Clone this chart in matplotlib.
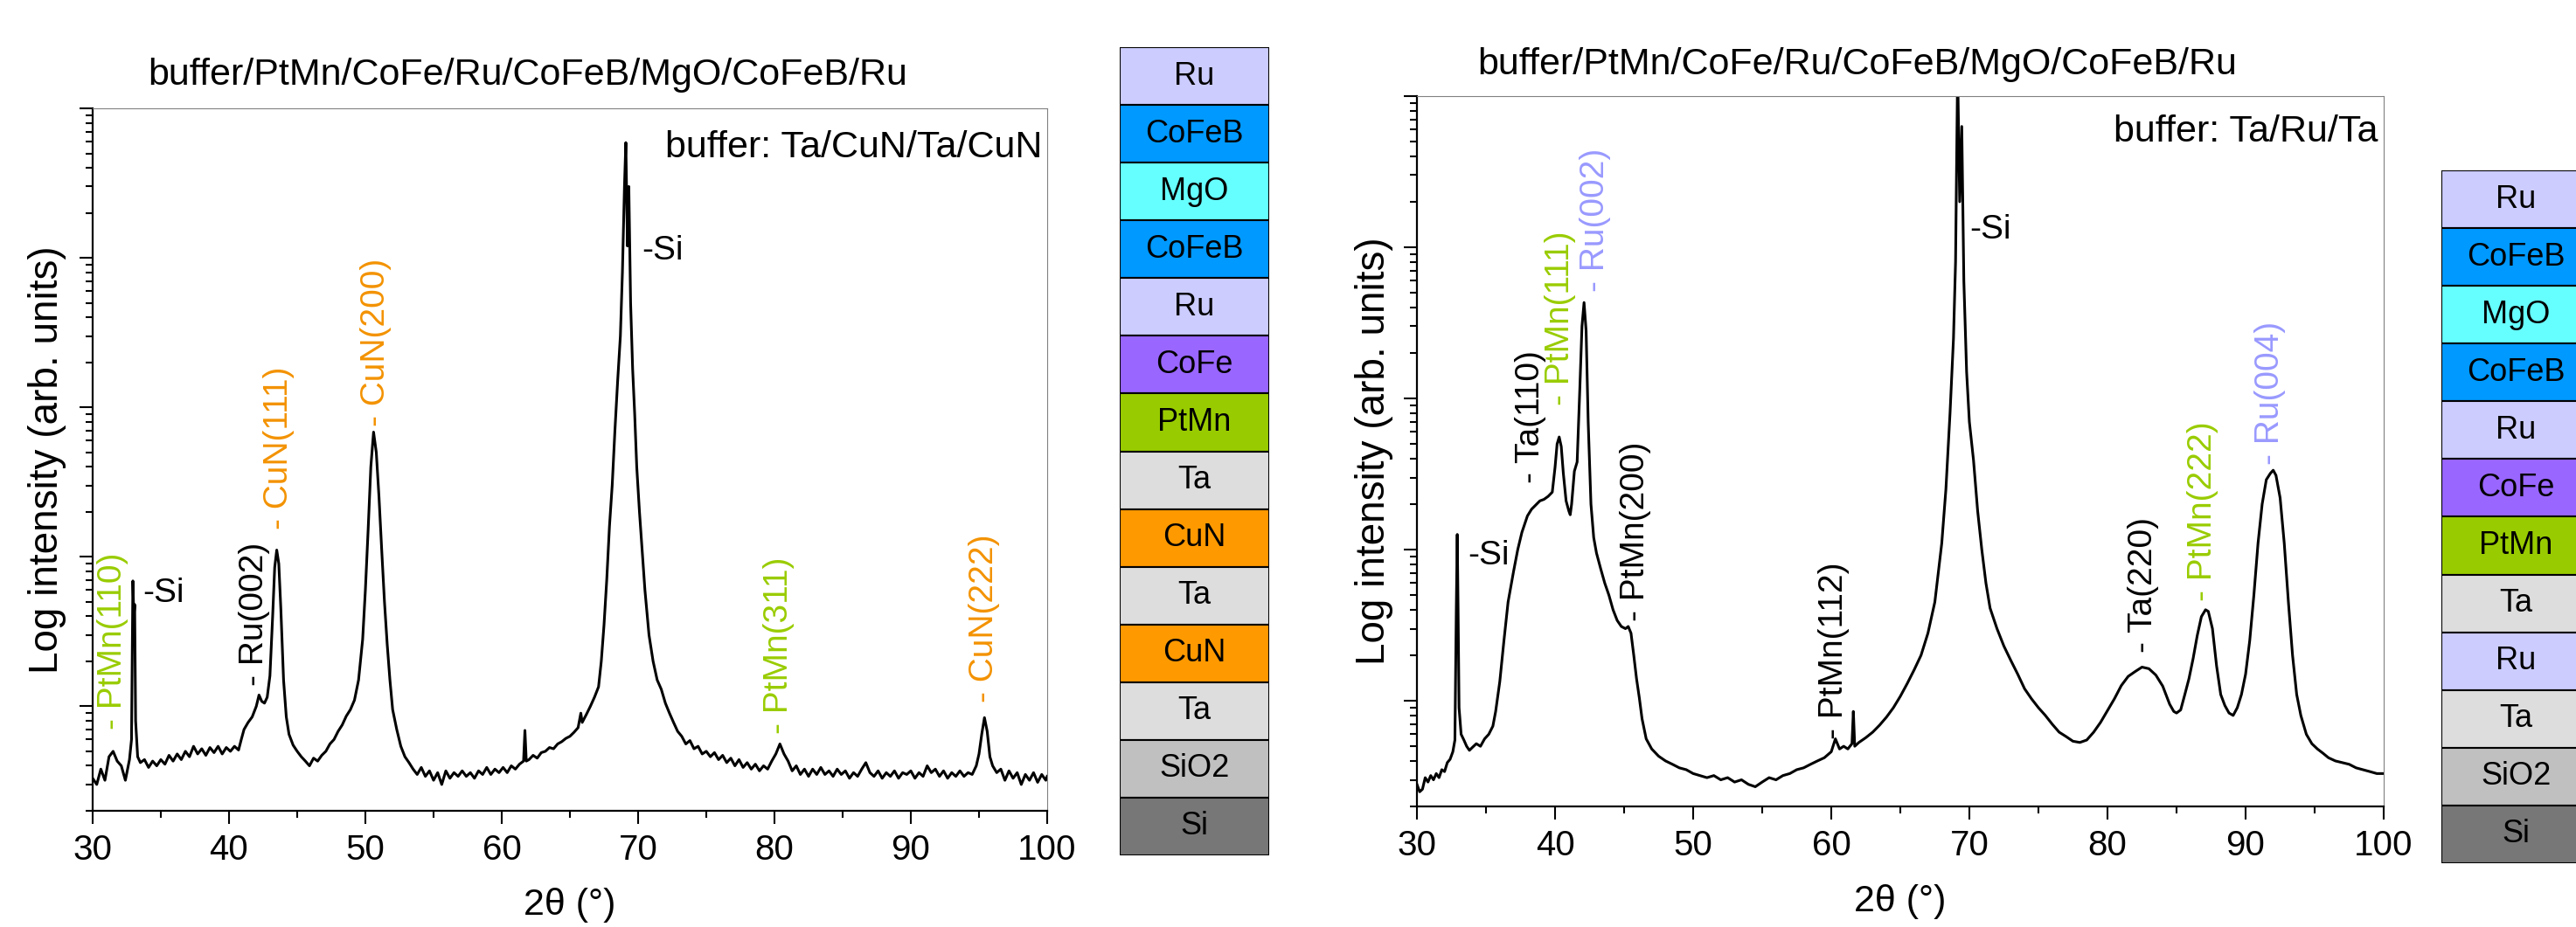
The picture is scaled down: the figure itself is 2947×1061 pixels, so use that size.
import numpy as np
import matplotlib
matplotlib.use("Agg")
import matplotlib.pyplot as plt
from matplotlib.ticker import LogLocator, NullFormatter, MultipleLocator

plt.rcParams['font.family'] = ['Liberation Sans', 'DejaVu Sans']

# ---------------- data ----------------
left_x = [30.0, 30.3, 30.6, 30.9, 31.2, 31.5, 31.8, 32.1, 32.4, 32.7, 32.85, 32.95, 33.02, 33.08, 33.15, 33.3,
          33.5, 33.8, 34.1, 34.4, 34.7, 35.0, 35.3, 35.6, 35.9, 36.2, 36.5, 36.8, 37.1, 37.4, 37.7, 38.0,
          38.3, 38.6, 38.9, 39.2, 39.5, 39.8, 40.1, 40.4, 40.7, 40.9, 41.1, 41.4, 41.7, 42.0, 42.2, 42.4,
          42.6, 42.8, 43.0, 43.2, 43.35, 43.5, 43.65, 43.8, 44.0, 44.2, 44.4, 44.7, 45.0, 45.3, 45.6, 45.9,
          46.2, 46.5, 46.8, 47.1, 47.4, 47.7, 48.0, 48.3, 48.6, 48.9, 49.2, 49.5, 49.8, 50.0, 50.2, 50.4,
          50.6, 50.8, 51.0, 51.2, 51.4, 51.6, 51.8, 52.0, 52.3, 52.6, 52.9, 53.2, 53.5, 53.8, 54.1, 54.4,
          54.7, 55.0, 55.3, 55.6, 55.9, 56.2, 56.5, 56.8, 57.1, 57.4, 57.7, 58.0, 58.3, 58.6, 58.9, 59.2,
          59.5, 59.8, 60.1, 60.4, 60.7, 61.0, 61.3, 61.6, 61.7, 61.8, 62.0, 62.3, 62.6, 62.9, 63.2, 63.5,
          63.8, 64.1, 64.4, 64.7, 65.0, 65.3, 65.6, 65.8, 65.9, 66.2, 66.5, 66.8, 67.1, 67.3, 67.5, 67.7,
          67.9, 68.1, 68.3, 68.5, 68.7, 68.85, 69.0, 69.1, 69.22, 69.32, 69.45, 69.6, 69.75, 69.9, 70.1,
          70.3, 70.5, 70.8, 71.1, 71.4, 71.7, 72.0, 72.3, 72.6, 72.9, 73.2, 73.5, 73.8, 74.1, 74.4, 74.7,
          75.0, 75.3, 75.6, 75.9, 76.2, 76.5, 76.8, 77.1, 77.4, 77.7, 78.0, 78.3, 78.6, 78.9, 79.2, 79.5,
          79.8, 80.1, 80.4, 80.7, 81.0, 81.3, 81.6, 81.9, 82.2, 82.5, 82.8, 83.1, 83.4, 83.7, 84.0, 84.3,
          84.6, 84.9, 85.2, 85.5, 85.8, 86.1, 86.4, 86.7, 87.0, 87.3, 87.6, 87.9, 88.2, 88.5, 88.8, 89.1,
          89.4, 89.7, 90.0, 90.3, 90.6, 90.9, 91.2, 91.5, 91.8, 92.1, 92.4, 92.7, 93.0, 93.3, 93.6, 93.9,
          94.2, 94.5, 94.8, 95.0, 95.2, 95.4, 95.6, 95.8, 96.0, 96.3, 96.6, 96.9, 97.2, 97.5, 97.8, 98.1,
          98.4, 98.7, 99.0, 99.3, 99.6, 99.9, 100.0]
left_I = [3.3, 3.0, 3.8, 3.2, 4.6, 5.0, 4.3, 4.0, 3.2, 4.4, 6.0, 69, 40, 48, 8, 4.6,
          4.2, 4.4, 3.9, 4.3, 4.0, 4.4, 4.1, 4.7, 4.3, 4.8, 4.4, 5.0, 4.6, 5.4, 4.8, 5.2,
          4.7, 5.3, 4.9, 5.4, 4.8, 5.3, 5.0, 5.4, 5.1, 6.0, 7.0, 7.8, 8.5, 10.0, 11.9, 10.8,
          10.5, 11.5, 16, 40, 85, 111, 90, 45, 15, 8.5, 6.5, 5.5, 5.0, 4.6, 4.3, 4.0,
          4.5, 4.3, 4.7, 5.0, 5.6, 6.0, 6.8, 7.5, 8.6, 9.5, 11, 15, 28, 60, 150, 400,
          683, 500, 250, 110, 50, 26, 15, 9.5, 7.0, 5.4, 4.6, 4.2, 3.8, 3.5, 3.9, 3.4,
          3.7, 3.2, 3.6, 3.0, 3.7, 3.3, 3.6, 3.4, 3.7, 3.4, 3.6, 3.3, 3.7, 3.5, 3.9, 3.5,
          3.8, 3.6, 3.9, 3.6, 4.0, 3.8, 4.1, 4.3, 6.9, 4.3, 4.4, 4.7, 4.5, 4.9, 5.0, 5.3,
          5.2, 5.6, 5.8, 6.1, 6.3, 6.7, 7.2, 9.0, 7.8, 8.8, 10, 11.5, 13.5, 20, 35, 70,
          160, 300, 700, 1500, 3000, 8000, 30000, 59000, 12000, 30000, 5000, 1800, 900, 400, 200,
          110, 60, 30, 20, 15, 13, 10.5, 9.0, 7.8, 6.8, 6.3, 5.6, 5.9, 5.2, 5.4, 4.8,
          5.0, 4.6, 4.9, 4.4, 4.7, 4.2, 4.5, 4.0, 4.4, 3.9, 4.2, 3.8, 4.1, 3.7, 4.0, 3.8,
          4.3, 4.8, 5.6, 4.8, 4.3, 3.7, 4.0, 3.5, 3.8, 3.4, 3.8, 3.5, 3.9, 3.5, 3.7, 3.4,
          3.8, 3.5, 3.7, 3.3, 3.6, 3.4, 3.8, 4.2, 3.6, 3.4, 3.7, 3.3, 3.6, 3.4, 3.7, 3.3,
          3.6, 3.5, 3.7, 3.3, 3.6, 3.4, 4.0, 3.6, 3.8, 3.4, 3.7, 3.3, 3.6, 3.4, 3.7, 3.4,
          3.6, 3.5, 4.0, 4.8, 6.5, 8.4, 6.8, 4.6, 4.0, 3.6, 3.8, 3.2, 3.7, 3.3, 3.6, 3.0,
          3.5, 3.2, 3.6, 3.1, 3.5, 3.2, 3.4]

right_x = [30.0, 30.2, 30.4, 30.6, 30.8, 31.0, 31.2, 31.4, 31.6, 31.8, 32.0, 32.2, 32.4, 32.6, 32.75, 32.85,
           32.92, 32.98, 33.05, 33.2, 33.4, 33.6, 33.8, 34.0, 34.3, 34.6, 34.9, 35.2, 35.5, 35.7, 36.0, 36.3,
           36.6, 37.0, 37.3, 37.6, 38.0, 38.3, 38.6, 38.9, 39.2, 39.5, 39.8, 40.0, 40.15, 40.3, 40.45, 40.6,
           40.8, 41.0, 41.1, 41.2, 41.4, 41.6, 41.8, 41.95, 42.1, 42.25, 42.4, 42.6, 42.8, 43.0, 43.3, 43.6,
           43.9, 44.2, 44.5, 44.8, 45.1, 45.3, 45.5, 45.7, 45.9, 46.1, 46.3, 46.6, 47.0, 47.5, 48.0, 48.5,
           49.0, 49.5, 50.0, 50.5, 51.0, 51.5, 52.0, 52.5, 53.0, 53.5, 54.0, 54.5, 55.0, 55.5, 56.0, 56.5,
           57.0, 57.5, 58.0, 58.5, 59.0, 59.5, 60.0, 60.3, 60.6, 60.9, 61.2, 61.5, 61.6, 61.7, 62.0, 62.5,
           63.0, 63.5, 64.0, 64.5, 65.0, 65.5, 66.0, 66.5, 67.0, 67.5, 68.0, 68.3, 68.6, 68.85, 69.0, 69.15,
           69.3, 69.45, 69.6, 69.8, 70.0, 70.3, 70.6, 70.9, 71.2, 71.5, 72.0, 72.5, 73.0, 73.5, 74.0, 74.5,
           75.0, 75.5, 76.0, 76.5, 77.0, 77.5, 78.0, 78.5, 79.0, 79.5, 80.0, 80.5, 81.0, 81.5, 82.0, 82.5,
           83.0, 83.5, 84.0, 84.5, 84.8, 85.0, 85.3, 85.6, 85.9, 86.2, 86.5, 86.8, 87.1, 87.3, 87.6, 87.9,
           88.2, 88.5, 88.8, 89.1, 89.4, 89.7, 90.0, 90.3, 90.6, 90.9, 91.2, 91.5, 91.8, 92.0, 92.2, 92.5,
           92.8, 93.1, 93.4, 93.7, 94.0, 94.4, 94.8, 95.2, 95.6, 96.0, 96.5, 97.0, 97.5, 98.0, 98.5, 99.0,
           99.5, 100.0]
right_I = [2.8, 2.5, 2.6, 3.1, 2.9, 3.2, 3.0, 3.3, 3.1, 3.5, 3.4, 3.9, 4.1, 4.6, 5.5, 40,
           126, 40, 9, 6.0, 5.5, 5.0, 4.7, 4.9, 5.2, 5.0, 5.6, 6.0, 6.8, 8.5, 13.4, 25,
           45, 72, 100, 130, 167, 185, 197, 210, 215, 225, 240, 350, 500, 556, 480, 320,
           210, 180, 170, 200, 330, 380, 1200, 3000, 4310, 2800, 700, 200, 120, 95, 75, 60,
           50, 40, 34, 31, 30, 31, 28, 20, 14, 10.5, 7.6, 5.6, 4.8, 4.3, 4.0, 3.8,
           3.6, 3.5, 3.3, 3.2, 3.1, 3.2, 3.0, 3.1, 2.9, 3.0, 2.8, 2.7, 2.9, 3.1, 3.0, 3.2,
           3.3, 3.5, 3.6, 3.8, 4.0, 4.2, 4.6, 5.6, 4.8, 5.0, 4.8, 5.2, 8.5, 5.0, 5.3, 5.7,
           6.2, 6.9, 7.8, 9.0, 10.7, 13.0, 16.0, 20, 28, 45, 110, 250, 800, 2500, 8000, 150000,
           20000, 63000, 6000, 1500, 700, 390, 180, 100, 60, 41, 30, 23, 18.5, 15, 12, 10.3,
           9.0, 8.0, 7.0, 6.2, 5.8, 5.4, 5.3, 5.5, 6.2, 7.2, 8.6, 10.3, 12.6, 14.5, 15.6, 16.7,
           16.3, 14.8, 12.5, 9.5, 8.5, 8.3, 8.7, 11, 14, 19, 27, 36, 40, 39, 30, 17,
           11, 9.3, 8.3, 8.0, 9.0, 11, 15, 25, 50, 110, 200, 290, 320, 335, 310, 220,
           110, 45, 20, 11, 8.0, 6.0, 5.2, 4.8, 4.5, 4.2, 4.0, 3.9, 3.8, 3.6, 3.5, 3.4,
           3.3, 3.3]

titles = ["buffer/PtMn/CoFe/Ru/CoFeB/MgO/CoFeB/Ru", "buffer/PtMn/CoFe/Ru/CoFeB/MgO/CoFeB/Ru"]
buffers = ["buffer: Ta/CuN/Ta/CuN", "buffer: Ta/Ru/Ta"]

# peak labels: text, x, y(bottom), color
left_peaks = [("- PtMn(110)", 31.5, 6.95, "green"), ("- Ru(002)", 41.86, 13.7, "black"),
              ("- CuN(111)", 43.65, 152, "orange"), ("- CuN(200)", 50.8, 745, "orange"),
              ("- PtMn(311)", 80.3, 6.5, "green"), ("- CuN(222)", 95.36, 10.6, "orange")]
left_si = [(33.65, 50), (70.3, 9770)]
right_peaks = [("- Ta(110)", 38.2, 275, "black"), ("- PtMn(111)", 40.4, 898, "green"),
               ("- Ru(002)", 42.9, 5060, "ru"), ("- PtMn(200)", 45.8, 33.6, "black"),
               ("- PtMn(112)", 60.2, 5.6, "black"), ("- Ta(220)", 82.6, 20.9, "black"),
               ("- PtMn(222)", 86.9, 45.9, "green"), ("- Ru(004)", 91.8, 365, "ru")]
right_si = [(70.0, 11380), (33.67, 80)]

stack_left = ["Ru", "CoFeB", "MgO", "CoFeB", "Ru", "CoFe", "PtMn", "Ta", "CuN", "Ta", "CuN", "Ta", "SiO2", "Si"]
stack_right = ["Ru", "CoFeB", "MgO", "CoFeB", "Ru", "CoFe", "PtMn", "Ta", "Ru", "Ta", "SiO2", "Si"]

layer_colors = {"Ru": "#CCCCFF", "CoFeB": "#0099FF", "MgO": "#66FFFF", "CoFe": "#9966FF",
                "PtMn": "#99CC00", "Ta": "#DDDDDD", "CuN": "#FF9900", "SiO2": "#C0C0C0", "Si": "#777777"}
label_colors = {"green": "#99CC00", "orange": "#F39200", "black": "black", "ru": "#9999FF"}

# ---------------- figure ----------------
W, H = 2947, 1061
fig = plt.figure(figsize=(W / 100, H / 100), dpi=100)


def px_axes(x0, y0, x1, y1):
    return fig.add_axes([x0 / W, 1 - y1 / H, (x1 - x0) / W, (y1 - y0) / H])


def style(ax):
    ax.set_xlim(30, 100)
    ax.set_yscale('log')
    ax.set_ylim(2, 1e5)
    ax.xaxis.set_major_locator(MultipleLocator(10))
    ax.xaxis.set_minor_locator(MultipleLocator(5))
    ax.yaxis.set_major_locator(LogLocator(base=10, numticks=20))
    ax.yaxis.set_minor_locator(LogLocator(base=10, subs=np.arange(2, 10), numticks=20))
    ax.yaxis.set_major_formatter(NullFormatter())
    ax.yaxis.set_minor_formatter(NullFormatter())
    ax.tick_params(which='major', direction='out', length=11, width=1.5, labelsize=29, pad=8)
    ax.tick_params(which='minor', direction='out', length=5.5, width=1.5)
    ax.tick_params(top=False, right=False, which='both')
    for s in ['left', 'bottom']:
        ax.spines[s].set_linewidth(1.6)
        ax.spines[s].set_color('black')
    for s in ['top', 'right']:
        ax.spines[s].set_linewidth(0.8)
        ax.spines[s].set_color('#808080')
    ax.set_xlabel("2θ (°)", fontsize=31)
    ax.set_ylabel("Log intensity (arb. units)", fontsize=33, va='center')


axL = px_axes(106, 124, 1198, 928)
axR = px_axes(1621, 110, 2727, 923)

for ax, xs, ys, title, buf, peaks, sis in [
        (axL, left_x, left_I, titles[0], buffers[0], left_peaks, left_si),
        (axR, right_x, right_I, titles[1], buffers[1], right_peaks, right_si)]:
    style(ax)
    ax.plot(xs, ys, color='black', lw=2.2)
    for txt, x, y, c in peaks:
        ax.text(x, y, txt, rotation=90, ha='center', va='bottom', fontsize=28,
                color=label_colors[c])
    for x, y in sis:
        ax.text(x, y, "-Si", ha='left', va='baseline', fontsize=28, color='black')

axL.text(0.4556, 1.0336, titles[0], transform=axL.transAxes, ha='center', va='baseline', fontsize=31)
axR.text(0.4557, 1.0307, titles[1], transform=axR.transAxes, ha='center', va='baseline', fontsize=31)
axL.text(0.9945, 0.9303, buffers[0], transform=axL.transAxes, ha='right', va='baseline', fontsize=31)
axR.text(0.9937, 0.936, buffers[1], transform=axR.transAxes, ha='right', va='baseline', fontsize=31)

axL.xaxis.set_label_coords(0.5, -0.11)
axR.xaxis.set_label_coords(0.5, -0.11)
axL.yaxis.set_label_coords(-0.0476, 0.5)
axR.yaxis.set_label_coords(-0.0443, 0.5)

# ---------------- layer stacks ----------------
def draw_stack(ax, layers):
    n = len(layers)
    pos = np.arange(n)[::-1]
    ax.barh(pos, [1] * n, height=1.0, left=0, color=[layer_colors[l] for l in layers],
            edgecolor='black', linewidth=1.5)
    for p, l in zip(pos, layers):
        ax.text(0.5, p, l, ha='center', va='center', fontsize=26, color='black')
    ax.set_xlim(0, 1)
    ax.set_ylim(-0.5, n - 0.5)
    ax.axis('off')


stL = px_axes(1281, 54, 1452, 979)
draw_stack(stL, stack_left)
stR = px_axes(2793, 195, 2964, 988)
draw_stack(stR, stack_right)

fig.savefig("out.png", dpi=100)
